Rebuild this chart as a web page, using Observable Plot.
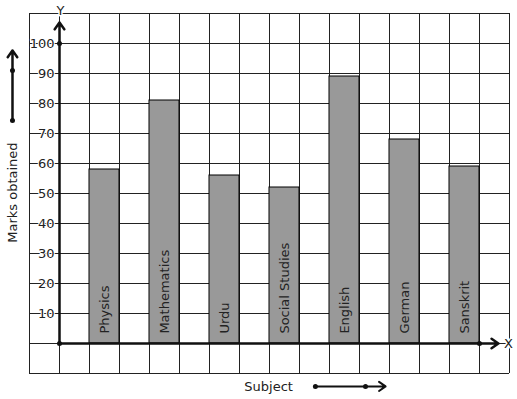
<!DOCTYPE html>
<html><head><meta charset="utf-8">
<script src="https://cdn.jsdelivr.net/npm/d3@7"></script>
<script src="https://cdn.jsdelivr.net/npm/@observablehq/plot@0.6"></script>
<style>body{margin:0;background:#fff}</style>
</head><body><div id="chart"></div>
<script>
const subjects = ["Physics","Mathematics","Urdu","Social Studies","English","German","Sanskrit"];
const marks = [58,81,56,52,89,68,59];
const yTicks = [10,20,30,40,50,60,70,80,90,100];
const gridX = d3.range(-1, 16);
const gridY = d3.range(-10, 111, 10);

const bars = subjects.map((s, i) => ({subject: s, value: marks[i], x1: 2 * i + 1, x2: 2 * i + 2}));
const ink = "#111";

const chart = Plot.plot({
  width: 517, height: 399,
  marginTop: 0, marginRight: 0, marginBottom: 0, marginLeft: 0,
  style: {fontFamily: "DejaVu Sans", fontSize: "13px", background: "white", overflow: "visible"},
  x: {domain: [-1, 15], range: [29, 509], axis: null},
  y: {domain: [-10, 110], range: [373, 13], axis: null},
  marks: [
    Plot.ruleX(gridX, {x: d => d, y1: -10, y2: 110, stroke: "#222", strokeWidth: 1}),
    Plot.ruleY(gridY, {y: d => d, x1: -1, x2: 15, stroke: "#222", strokeWidth: 1}),
    Plot.rect(bars, {x1: "x1", x2: "x2", y1: 0, y2: "value", fill: "#999999", stroke: "#000", strokeWidth: 1}),
    Plot.text(bars, {x: d => (d.x1 + d.x2) / 2, y: 3.3, text: "subject", rotate: -90, textAnchor: "start", fill: "#222", fontSize: 13}),
    // axes
    Plot.arrow([{x1: 0, y1: 0, x2: 0, y2: 107}], {x1: "x1", y1: "y1", x2: "x2", y2: "y2", stroke: ink, strokeWidth: 2.5, headLength: 5, headAngle: 70}),
    Plot.arrow([{x1: 0, y1: 0, x2: 14.63, y2: 0}], {x1: "x1", y1: "y1", x2: "x2", y2: "y2", stroke: ink, strokeWidth: 2.5, headLength: 5, headAngle: 70}),
    Plot.dot([[0, 0], [0, 100], [14, 0]], {x: d => d[0], y: d => d[1], r: 2.5, fill: ink, stroke: null}),
    Plot.text(yTicks, {x: 0, y: d => d, text: d => String(d), textAnchor: "end", dx: -5, fill: "#222", stroke: "white", strokeWidth: 2}),
    Plot.text(["Y"], {x: 0, y: 110, dy: -3, dx: 1, text: d => d, fill: "#222", stroke: "white", strokeWidth: 3}),
    Plot.text(["X"], {x: 14.63, y: 0, dx: 10, text: d => d, fill: "#222", stroke: "white", strokeWidth: 3}),
    // side label and arrow
    Plot.text(["Marks obtained"], {x: -1.567, y: 50.3, rotate: -90, text: d => d, fill: "#222"}),
    Plot.arrow([{x1: -1.567, y1: 74.3, x2: -1.567, y2: 97.7}], {x1: "x1", y1: "y1", x2: "x2", y2: "y2", stroke: ink, strokeWidth: 2.5, headLength: 5, headAngle: 70}),
    Plot.dot([[-1.567, 74.3], [-1.567, 91]], {x: d => d[0], y: d => d[1], r: 2.5, fill: ink, stroke: null}),
    // bottom label and arrow
    Plot.text(["Subject"], {x: 6.97, y: -14.3, text: d => d, fill: "#222"}),
    Plot.arrow([{x1: 8.53, y1: -14.3, x2: 10.87, y2: -14.3}], {x1: "x1", y1: "y1", x2: "x2", y2: "y2", stroke: ink, strokeWidth: 2, headLength: 6, headAngle: 70}),
    Plot.dot([[8.53, -14.3], [10.2, -14.3]], {x: d => d[0], y: d => d[1], r: 2.5, fill: ink, stroke: null})
  ]
});
document.getElementById("chart").appendChild(chart);
</script>
</body></html>
